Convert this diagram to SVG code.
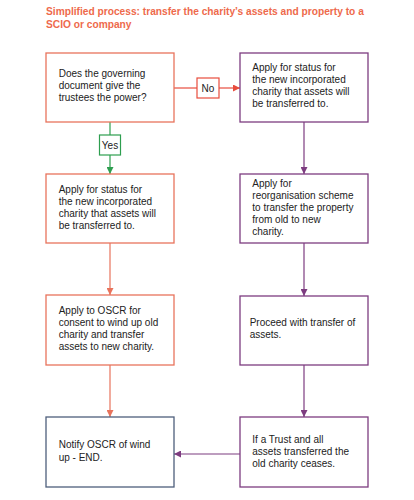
<svg xmlns="http://www.w3.org/2000/svg" width="414" height="500" viewBox="0 0 414 500">
<style>
text{font-family:"Liberation Sans",Arial,sans-serif;font-size:10px;fill:#222}
.title{font-size:10.2px;font-weight:bold;fill:#EE6A4C}
.box{fill:#fff;stroke-width:1.3}
.or{stroke:#E8735C}
.pu{stroke:#7D3C80}
.sl{stroke:#4E5F7C}
.ln{fill:none;stroke-width:1.2}
</style>
<defs>
<marker id="aO" viewBox="0 0 10 10" refX="10" refY="5" markerWidth="7" markerHeight="7" markerUnits="userSpaceOnUse" orient="auto"><path d="M0,0L10,5L0,10z" fill="#E8735C"/></marker>
<marker id="aP" viewBox="0 0 10 10" refX="10" refY="5" markerWidth="7" markerHeight="7" markerUnits="userSpaceOnUse" orient="auto"><path d="M0,0L10,5L0,10z" fill="#7D3C80"/></marker>
<marker id="aG" viewBox="0 0 10 10" refX="10" refY="5" markerWidth="7" markerHeight="7" markerUnits="userSpaceOnUse" orient="auto"><path d="M0,0L10,5L0,10z" fill="#2E9E4F"/></marker>
<marker id="aR" viewBox="0 0 10 10" refX="10" refY="5" markerWidth="7" markerHeight="7" markerUnits="userSpaceOnUse" orient="auto"><path d="M0,0L10,5L0,10z" fill="#E84C3D"/></marker>
</defs>
<rect width="414" height="500" fill="#fff"/>
<text class="title" x="46" y="15">Simplified process: transfer the charity’s assets and property to a</text>
<text class="title" x="46" y="27.5">SCIO or company</text>

<g id="connectors">
<path class="ln" stroke="#E84C3D" d="M174,88H197"/>
<path class="ln" stroke="#E84C3D" d="M219,88H240" marker-end="url(#aR)"/>
<path class="ln" stroke="#2E9E4F" d="M110,122V135"/>
<path class="ln" stroke="#2E9E4F" d="M110,155V174" marker-end="url(#aG)"/>
<path class="ln" stroke="#E8735C" d="M110,243V295" marker-end="url(#aO)"/>
<path class="ln" stroke="#E8735C" d="M110,365V417" marker-end="url(#aO)"/>
<path class="ln" stroke="#7D3C80" d="M304,122V174" marker-end="url(#aP)"/>
<path class="ln" stroke="#7D3C80" d="M304,243V296" marker-end="url(#aP)"/>
<path class="ln" stroke="#7D3C80" d="M304,365V417" marker-end="url(#aP)"/>
<path class="ln" stroke="#7D3C80" d="M240,454H174" marker-end="url(#aP)"/>
<g id="label-no"><rect x="197" y="78" width="22" height="20" fill="#fff" stroke="#E84C3D" stroke-width="1.2"/><text x="208" y="92" text-anchor="middle">No</text></g>
<g id="label-yes"><rect x="99.5" y="135" width="21" height="20" fill="#fff" stroke="#2E9E4F" stroke-width="1.2"/><text x="110" y="149" text-anchor="middle">Yes</text></g>
</g>

<g id="n1"><rect class="box or" x="46" y="53" width="128" height="69"/>
<text x="58.7" y="77.3">Does the governing</text><text x="58.7" y="89">document give the</text><text x="58.7" y="100.7">trustees the power?</text></g>

<g id="n2"><rect class="box pu" x="240" y="53" width="128" height="69"/>
<text x="252.3" y="70.7">Apply for status for</text><text x="252.3" y="82.7">the new incorporated</text><text x="252.3" y="94.7">charity that assets will</text><text x="252.3" y="106.7">be transferred to.</text></g>

<g id="n3"><rect class="box or" x="46" y="174" width="128" height="69"/>
<text x="58.7" y="193.3">Apply for status for</text><text x="58.7" y="205.3">the new incorporated</text><text x="58.7" y="217.3">charity that assets will</text><text x="58.7" y="229.3">be transferred to.</text></g>

<g id="n4"><rect class="box pu" x="240" y="174" width="128" height="69"/>
<text x="252.3" y="187.3">Apply for</text><text x="252.3" y="199.3">reorganisation scheme</text><text x="252.3" y="211.3">to transfer the property</text><text x="252.3" y="223.3">from old to new</text><text x="252.3" y="235.3">charity.</text></g>

<g id="n5"><rect class="box or" x="46" y="295" width="128" height="70"/>
<text x="58.7" y="313.5">Apply to OSCR for</text><text x="58.7" y="325.8">consent to wind up old</text><text x="58.7" y="338.1">charity and transfer</text><text x="58.7" y="350.4">assets to new charity.</text></g>

<g id="n6"><rect class="box pu" x="240" y="296" width="128" height="69"/>
<text x="249.7" y="325.7">Proceed with transfer of</text><text x="249.7" y="337.7">assets.</text></g>

<g id="n7"><rect class="box sl" x="46" y="417" width="128" height="70"/>
<text x="58.7" y="448">Notify OSCR of wind</text><text x="58.7" y="461">up - END.</text></g>

<g id="n8"><rect class="box pu" x="240" y="417" width="128" height="70"/>
<text x="252.3" y="442.7">If a Trust and all</text><text x="252.3" y="454.7">assets transferred the</text><text x="252.3" y="466.7">old charity ceases.</text></g>
</svg>
